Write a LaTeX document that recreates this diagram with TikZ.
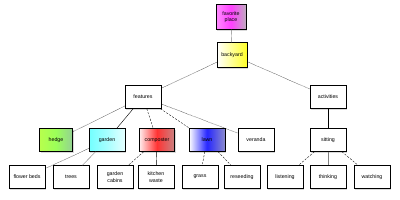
\documentclass[tikz,border=0pt]{standalone}
\usepackage{fontspec}
\setsansfont{Liberation Sans}
\usetikzlibrary{shadows}

\begin{document}
\begin{tikzpicture}[
    x=0.05cm, y=-0.05cm,
    every node/.style={font=\sffamily\fontsize{7.5}{9.5}\selectfont},
    box/.style={
        draw=black,
        line width=0.7pt,
        align=center,
        minimum width=18mm,
        minimum height=11.5mm,
        inner sep=1pt,
        fill=white,
        drop shadow={shadow xshift=0.7mm, shadow yshift=-0.7mm, opacity=0.3}
    },
    small/.style={minimum width=15mm, minimum height=12.5mm},
    dotline/.style={densely dotted, line width=0.6pt},
    dashline/.style={densely dashed, line width=0.5pt},
    plain/.style={line width=0.6pt},
    greyline/.style={line width=0.6pt, gray}
]
\useasboundingbox (0,0) rectangle (400,200);

% top
\node[box, small, left color=magenta!45!white, right color=violet!30!gray!50, middle color=magenta!75] (fav) at (231,17) {favorite\\place};
\node[box, small, left color=white, right color=yellow!85] (back) at (232,55) {backyard};

% second level
\node[box] (feat) at (143,97) {features};
\node[box] (act) at (328,97) {activities};

% third level
\node[box, minimum width=16.5mm, left color=yellow!60!green!70, right color=green!40!gray!60, middle color=green!60!yellow!65] (hedge) at (56,140) {hedge};
\node[box, left color=cyan!55, right color=cyan!10!white, middle color=cyan!35] (garden) at (107,140) {garden};
\node[box, minimum width=17.5mm, left color=red!8, right color=red!40!gray!70, middle color=red!80] (comp) at (157,140) {composter};
\node[box, left color=white, right color=blue!40!gray!65, middle color=blue!85] (lawn) at (207,140) {lawn};
\node[box] (veranda) at (256,140) {veranda};
\node[box] (sitting) at (328,140) {sitting};

% leaves
\node[box] (flower) at (27,177) {flower beds};
\node[box] (trees) at (71,177) {trees};
\node[box] (cabins) at (115,177) {garden\\cabins};
\node[box] (kitchen) at (156,177) {kitchen\\waste};
\node[box] (grass) at (200,177) {grass};
\node[box] (reseed) at (242,177) {reseeding};
\node[box] (listen) at (285,177) {listening};
\node[box] (think) at (328,177) {thinking};
\node[box] (watch) at (372,177) {watching};

% connectors
\draw[greyline] (fav) -- (back);
\draw[dotline] (back) -- (feat);
\draw[dotline] (back) -- (act);

\draw[dotline] (feat) -- (hedge);
\draw[plain] (feat) -- (garden);
\draw[dashline] (feat) -- (comp);
\draw[dashline] (feat) -- (lawn);
\draw[dotline] (feat) -- (veranda);
\draw[plain, line width=0.8pt] (act) -- (sitting);

\draw[dotline] (garden) -- (flower);
\draw[greyline] (garden) -- (trees);
\draw[dashline] (comp) -- (cabins);
\draw[plain] (comp) -- (kitchen);
\draw[dashline] (lawn) -- (grass);
\draw[dashline] (lawn) -- (reseed);
\draw[dashline] (sitting) -- (listen);
\draw[greyline] (sitting) -- (think);
\draw[dashline] (sitting) -- (watch);

\end{tikzpicture}
\end{document}
